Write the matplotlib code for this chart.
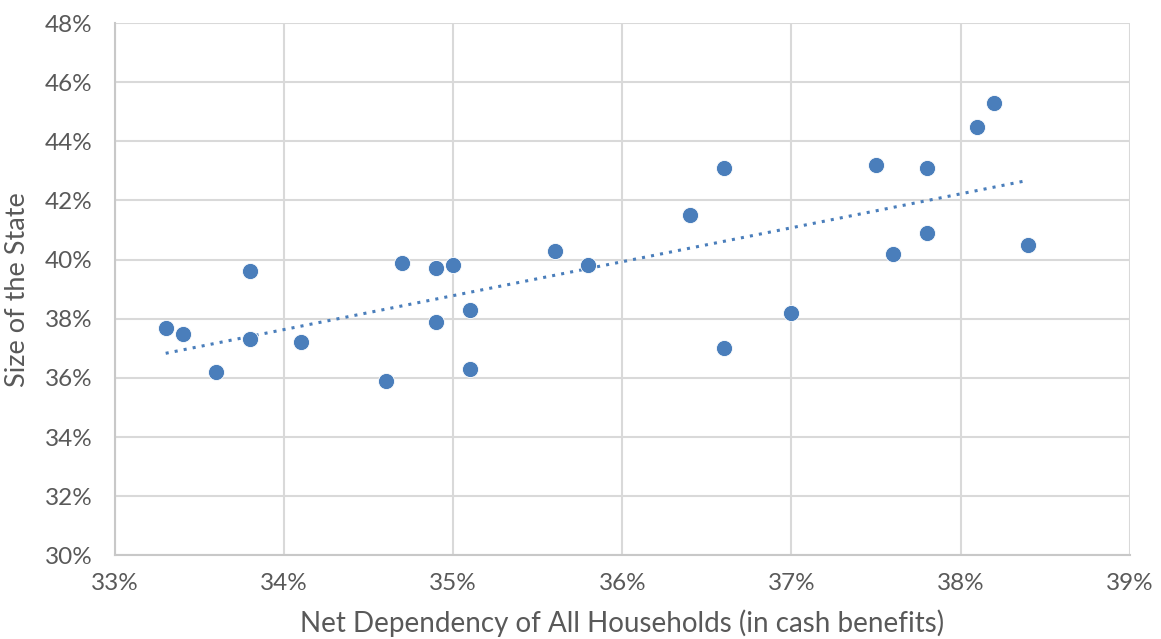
import numpy as np
import matplotlib
matplotlib.use('Agg')
import matplotlib.pyplot as plt
from matplotlib.ticker import FuncFormatter, MultipleLocator

# Net dependency (x) vs size of the state (y), both in percent
net_dependency = [33.3, 33.4, 33.6, 33.8, 33.8, 34.1, 34.6, 34.7, 34.9, 34.9,
                  35.0, 35.1, 35.1, 35.6, 35.8, 36.4, 36.6, 36.6, 37.0, 37.5,
                  37.6, 37.8, 37.8, 38.1, 38.2, 38.4]
size_of_state = [37.7, 37.5, 36.2, 39.6, 37.3, 37.2, 35.9, 39.9, 39.7, 37.9,
                 39.8, 38.3, 36.3, 40.3, 39.8, 41.5, 43.1, 37.0, 38.2, 43.2,
                 40.2, 43.1, 40.9, 44.5, 45.3, 40.5]

x_label = "Net Dependency of All Households (in cash benefits)"
y_label = "Size of the State"

POINT_COLOR = "#4a7ebb"
TEXT_COLOR = "#595959"
GRID_COLOR = "#d9d9d9"

plt.rcParams['font.family'] = ['Lato', 'DejaVu Sans']

fig = plt.figure(figsize=(11.61, 6.39), dpi=100)
ax = fig.add_axes([0.099, 0.131, 0.874, 0.833])

x = np.array(net_dependency)
y = np.array(size_of_state)

ax.scatter(x, y, s=135, color=POINT_COLOR, edgecolors='white', linewidths=0.6, zorder=3)

# linear trendline over the data range
slope, intercept = np.polyfit(x, y, 1)
xt = np.array([x.min(), x.max()])
ax.plot(xt, slope * xt + intercept, color=POINT_COLOR, linewidth=2.2,
        linestyle=(0, (1, 2)), zorder=2)

ax.set_xlim(33, 39)
ax.set_ylim(30, 48)
ax.xaxis.set_major_locator(MultipleLocator(1))
ax.yaxis.set_major_locator(MultipleLocator(2))
fmt = FuncFormatter(lambda v, p: f"{v:.0f}%")
ax.xaxis.set_major_formatter(fmt)
ax.yaxis.set_major_formatter(fmt)

ax.grid(True, color=GRID_COLOR, linewidth=1.5, zorder=0)
ax.set_axisbelow(True)
for side in ['top', 'right']:
    ax.spines[side].set_visible(False)
for side in ['left', 'bottom']:
    ax.spines[side].set_color("#c8c8c8")
    ax.spines[side].set_linewidth(1.5)

ax.tick_params(axis='x', length=0, labelsize=17.5, colors=TEXT_COLOR, pad=13)
ax.tick_params(axis='y', length=0, labelsize=17.5, colors=TEXT_COLOR, pad=16)
ax.set_xlabel(x_label, fontsize=20, color=TEXT_COLOR, labelpad=11)
ax.set_ylabel(y_label, fontsize=19.5, color=TEXT_COLOR, labelpad=11)

fig.savefig("out.png", dpi=100, facecolor='white')
